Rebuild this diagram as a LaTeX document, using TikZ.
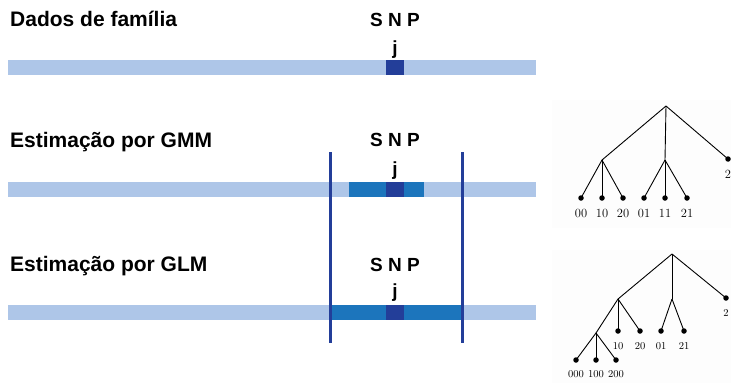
\documentclass[tikz,border=0pt]{standalone}
\usepackage{fontspec}
\newfontfamily\headfont{Liberation Sans}
\usetikzlibrary{positioning}
\definecolor{barlight}{HTML}{AEC6E8}
\definecolor{barmid}{HTML}{1C75BC}
\definecolor{bardark}{HTML}{233E99}
\definecolor{treebg}{HTML}{FDFDFD}

\begin{document}
\begin{tikzpicture}[x=1pt,y=-1pt,
    title/.style={anchor=base west, inner sep=0pt, font=\headfont\fontsize{21}{24}\selectfont\bfseries},
    snp/.style={anchor=base, inner sep=0pt, font=\headfont\fontsize{19}{22}\selectfont\bfseries},
    leaf/.style={circle, fill=black, inner sep=0pt, minimum size=5.5pt},
    fork/.style={inner sep=0pt, minimum size=0pt},
    lbl/.style={inner sep=0pt, font=\fontsize{12.5}{14}\selectfont},
    smalllbl/.style={inner sep=0pt, font=\fontsize{10.5}{12}\selectfont},
    edge/.style={line width=0.9pt},
    window/.style={bardark, line width=3pt}
  ]
    \useasboundingbox (0,0) rectangle (731,383);

    % chromosome bars
    \fill[barlight] (8,60) rectangle (536,75);
    \fill[bardark] (386,60) rectangle (404,75);
    \fill[barlight] (8,182) rectangle (536,197);
    \fill[barmid] (349,182) rectangle (424,197);
    \fill[bardark] (386,182) rectangle (404,197);
    \fill[barlight] (8,305) rectangle (536,320);
    \fill[barmid] (330,305) rectangle (462,320);
    \fill[bardark] (386,305) rectangle (404,320);

    % window borders
    \draw[window] (330,152) -- (330,343);
    \draw[window] (462,152) -- (462,343);

    % row labels
    \node[title] (fam) at (10,26) {Dados de família};
    \node[title] (gmm) at (10,147) {Estimação por GMM};
    \node[title] (glm) at (10,271) {Estimação por GLM};
    \node[snp] (snpA) at (395,26) {S N P};
    \node[snp] (jA) at (395,54) {j};
    \node[snp] (snpB) at (395,146) {S N P};
    \node[snp] (jB) at (395,175) {j};
    \node[snp] (snpC) at (395,271) {S N P};
    \node[snp] (jC) at (395,297) {j};

    % tree for GMM
    \fill[treebg] (552,100) rectangle (731,228);
    \node[fork] (r1) at (666,106) {};
    \node[fork] (a1) at (602,160) {};
    \node[fork] (b1) at (665,160) {};
    \node[leaf] (c1) at (728,159) {};
    \node[lbl, below=8pt of c1] {2};
    \foreach \x/\t/\p in {581/00/a1, 602/10/a1, 623/20/a1, 644/01/b1, 665/11/b1, 687/21/b1} {
      \node[leaf] (l\t) at (\x,198) {};
      \node[lbl, below=8pt of l\t] {\t};
      \draw[edge] (\p.center) -- (l\t.center);
    }
    \draw[edge] (r1.center) -- (a1.center);
    \draw[edge] (r1.center) -- (b1.center);
    \draw[edge] (r1.center) -- (c1.center);

    % tree for GLM
    \fill[treebg] (552,250) rectangle (731,383);
    \node[fork] (r2) at (672,254) {};
    \node[fork] (a2) at (618,299) {};
    \node[fork] (b2) at (672,299) {};
    \node[leaf] (c2) at (726,298) {};
    \node[smalllbl, below=8pt of c2] {2};
    \node[fork] (d2) at (596,333) {};
    \foreach \x/\t/\p in {618/10/a2, 640/20/a2, 661/01/b2, 684/21/b2} {
      \node[leaf] (m\t) at (\x,331) {};
      \node[smalllbl, below=8pt of m\t] {\t};
      \draw[edge] (\p.center) -- (m\t.center);
    }
    \foreach \x/\t in {576/000, 596/100, 616/200} {
      \node[leaf] (m\t) at (\x,360) {};
      \node[smalllbl, below=7pt of m\t] {\t};
      \draw[edge] (d2.center) -- (m\t.center);
    }
    \draw[edge] (r2.center) -- (a2.center);
    \draw[edge] (r2.center) -- (b2.center);
    \draw[edge] (r2.center) -- (c2.center);
    \draw[edge] (a2.center) -- (d2.center);
  \end{tikzpicture}
\end{document}
